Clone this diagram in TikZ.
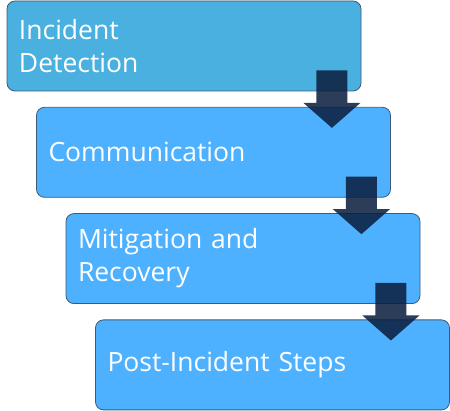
\documentclass[tikz,border=0pt]{standalone}
\usepackage{fontspec}
\setmainfont{Open Sans}
\usetikzlibrary{calc}

\definecolor{topfill}{HTML}{4AB0E0}
\definecolor{stepfill}{HTML}{4DB1FF}
\definecolor{stepline}{HTML}{3F5A75}
\definecolor{arrowfill}{HTML}{0C203F}

\begin{document}
\begin{tikzpicture}[x=1pt,y=1pt]
  \tikzset{stepbox/.style={draw=stepline,line width=.8pt,fill=stepfill,rounded corners=8pt,
      minimum width=354pt,minimum height=90pt,text width=330pt,align=left,inner xsep=12pt,
      text=white,font=\fontsize{26.5}{33}\selectfont},
    downarrow/.style={fill=arrowfill,fill opacity=.87}}
  \useasboundingbox (0,0) rectangle (450,-411);
  \node[stepbox,fill=topfill] (step1) at (184,-46) {Incident\\Detection};
  \node[stepbox] (step2) at (213.5,-152.3) {Communication};
  \node[stepbox] (step3) at (243,-258.6) {Mitigation and\\Recovery};
  \node[stepbox] (step4) at (272.5,-364.9) {Post-Incident Steps};
  % arrows between the steps
  \foreach \a/\b in {1/2,2/3,3/4}{
    \path (step\a.south east) ++(-29.5,21) coordinate (top\a);
    \path (step\b.north) ++(0,-21) coordinate (low\a);
    \coordinate (tip\a) at (top\a |- low\a);
    \fill[downarrow] ($(top\a)+(-15.5,0)$) -- ($(top\a)+(15.5,0)$)
      -- ($(tip\a)+(15.5,25)$) -- ($(tip\a)+(28.5,25)$) -- (tip\a)
      -- ($(tip\a)+(-28.5,25)$) -- ($(tip\a)+(-15.5,25)$) -- cycle;
  }
\end{tikzpicture}
\end{document}
